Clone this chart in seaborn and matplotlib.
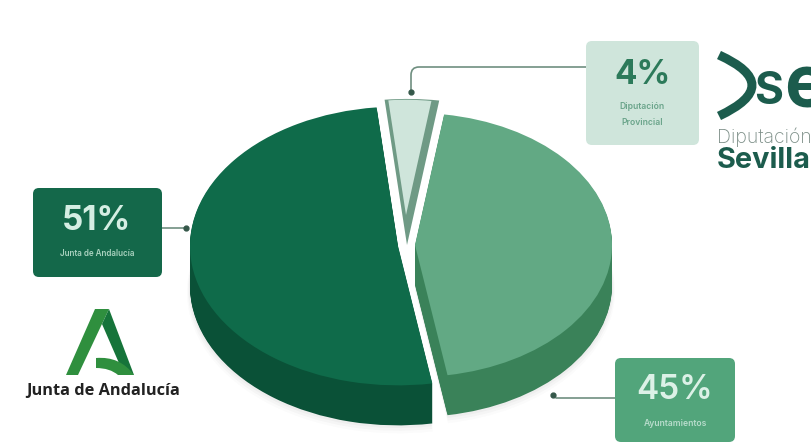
import matplotlib
matplotlib.use('Agg')
import matplotlib.pyplot as plt
import seaborn as sns
from matplotlib.patches import FancyBboxPatch, PathPatch, Polygon
from matplotlib.path import Path

# values
shares = [4, 51, 45]
names = ['Diputación\nProvincial', 'Junta de Andalucía', 'Ayuntamientos']
top_colors = ['#cfe5db', '#0f6b4a', '#62a984']
side_colors = ['#6f9a85', '#0a5137', '#3a8259']
box_colors = ['#cfe5db', '#14684a', '#52a57b']
pct_colors = ['#2c7a5a', '#d5eee3', '#dcf1e7']
name_colors = ['#6ba58b', '#a9d2bf', '#b7dccb']

W, H = 811, 443
K = 0.67  # squash of the pie
START = 81.5

sns.set_theme(style='white')
plt.rcParams['font.family'] = ['Inter', 'DejaVu Sans']

fig = plt.figure(figsize=(W / 100, H / 100), dpi=100)
pie_ax = fig.add_axes([0, 0, 1, 1], zorder=1)
ax = fig.add_axes([0, 0, 1, 1], zorder=2)
ax.set_xlim(0, W)
ax.set_ylim(H, 0)
ax.axis('off')
ax.patch.set_alpha(0)


def draw_pie(colors, centers, radii, alpha=1.0):
    wedges, _ = pie_ax.pie(shares, startangle=START, colors=colors, wedgeprops={'alpha': alpha, 'linewidth': 0})
    for w, (cx, cy), r in zip(wedges, centers, radii):
        w.set_center((cx, (H - cy) / K))
        w.set_radius(r)
    return wedges


centers = [(407, 245), (398, 246), (415, 245)]
radii = [218, 208, 197]

# soft shadow under the pie
for off, a in [(6, 0.02), (4, 0.03), (2, 0.04)]:
    ws = draw_pie(['#ffffff', '#444444', '#444444'],
                  [(c[0], c[1] + 40 + off) for c in centers],
                  [r + off / 2 for r in radii], alpha=a)
    ws[0].set_visible(False)

# side faces, one pixel layer at a time
depth = 40
for d in range(depth, 0, -1):
    ws = draw_pie(side_colors, [(c[0], c[1] + d) for c in centers], radii)
    ws[0].set_visible(False)

# top faces
ws = draw_pie(top_colors, centers, radii)
ws[0].set_facecolor(side_colors[0])
light = pie_ax.pie(shares, startangle=START, colors=top_colors, wedgeprops={'linewidth': 0})[0]
light[0].set_center((406, (H - 215) / K))
light[0].set_radius(172)
light[1].set_visible(False)
light[2].set_visible(False)

pie_ax.set_aspect('auto')
pie_ax.set_xlim(0, W)
pie_ax.set_ylim(0, H / K)
pie_ax.axis('off')

# label boxes
boxes = [(586, 41, 113, 104), (33, 188, 129, 89), (615, 358, 120, 84)]
pct_pos = [(642, 75), (97, 221), (675, 390)]
pct_weight = ['bold', 'bold', 'semibold']
name_pos = [(642, 114), (97, 254), (675, 423)]
name_size = [6.2, 5.8, 6.2]
for i, (x, y, w, h) in enumerate(boxes):
    ax.add_patch(FancyBboxPatch((x + 5, y + 5), w - 10, h - 10, boxstyle='round,pad=5,rounding_size=6',
                                fc=box_colors[i], ec='none', zorder=3))
    ax.text(*pct_pos[i], f'{shares[i]}%', ha='center', va='center', fontsize=24,
            fontweight=pct_weight[i], color=pct_colors[i], zorder=4)
    ax.text(*name_pos[i], names[i], ha='center', va='center', fontsize=name_size[i], linespacing=2.0,
            fontweight='semibold', color=name_colors[i], zorder=4)

# leader lines
line_c = '#6f8f80'
dot_c = '#35584a'
ax.plot([162, 186], [228, 228], color=line_c, lw=1.2, zorder=2)
ax.plot([186], [228], 'o', ms=3.5, color=dot_c, zorder=3)
ax.add_patch(PathPatch(Path([(586, 67), (419, 67), (411, 67), (411, 75), (411, 91)],
                            [Path.MOVETO, Path.LINETO, Path.CURVE3, Path.CURVE3, Path.LINETO]),
                       fc='none', ec=line_c, lw=1.2, zorder=2))
ax.plot([411], [92], 'o', ms=3.5, color=dot_c, zorder=3)
ax.plot([615, 556], [398, 398], color=line_c, lw=1.2, zorder=2)
ax.plot([553], [395], 'o', ms=3.5, color=dot_c, zorder=3)

# Diputacion de Sevilla logo, cut by the right edge like the original
teal = '#1c5c4d'
ax.add_patch(PathPatch(Path([(719, 55), (785, 85), (719, 116)], [Path.MOVETO, Path.CURVE3, Path.CURVE3]),
                       fc='none', ec=teal, lw=6.5, capstyle='butt', zorder=3))
ax.text(754, 92, 'S', fontsize=32, fontweight='bold', color=teal, ha='left', va='center', zorder=3)
ax.text(784, 88, 'e', fontsize=52, fontweight='bold', color=teal, ha='left', va='center', zorder=3)
ax.text(717, 137, 'Diputación', fontsize=14, color='#7d8f88', ha='left', va='center', zorder=3, fontweight='light')
ax.text(717, 161, 'Sevilla', fontsize=20.8, fontweight='bold', color=teal, ha='left', va='center', zorder=3)

# Junta de Andalucia logo
ax.add_patch(Polygon([(66, 375), (95, 309), (109, 309), (78, 375)], fc='#2f8f3e', ec='none', zorder=3))
ax.add_patch(Polygon([(109, 309), (134, 375), (122, 370), (102, 324)], fc='#16743a', ec='none', zorder=3))
ax.add_patch(PathPatch(Path([(96, 358), (120, 356), (134, 375), (118, 375), (110, 368), (96, 368), (96, 358)],
                            [Path.MOVETO, Path.CURVE3, Path.CURVE3, Path.LINETO, Path.CURVE3, Path.CURVE3, Path.CLOSEPOLY]),
                       fc='#2f8f3e', ec='none', zorder=3))
ax.text(103, 391, 'Junta de Andalucía', fontsize=11.8, fontweight='bold', color='#222222',
        family=['Open Sans', 'DejaVu Sans'], ha='center', va='center', zorder=3)

fig.savefig('out.png', dpi=100)
